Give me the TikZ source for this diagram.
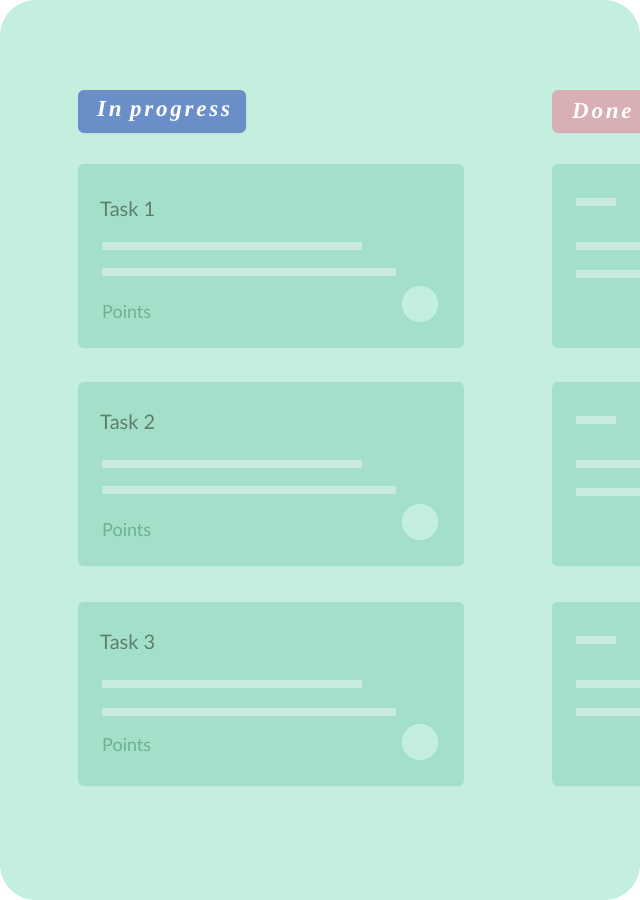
\documentclass[tikz,border=0pt]{standalone}
\usepackage{fontspec}
\setmainfont{Lato}
\newfontfamily\tagfont{Liberation Serif}[LetterSpace=12]
\usetikzlibrary{positioning}
\definecolor{boardbg}{HTML}{C4EFDF}
\definecolor{cardbg}{HTML}{A4DFCA}
\definecolor{barbg}{HTML}{C9EBDF}
\definecolor{tasktext}{HTML}{5D7D6F}
\definecolor{pointtext}{HTML}{6FB194}
\definecolor{progblue}{HTML}{6A8FC8}
\definecolor{donepink}{HTML}{D9AFB6}
\tikzset{
    %Define style for column tags
    tagnode/.style={
             rectangle, rounded corners=6pt,
             minimum height=43pt, inner sep=0pt, outer sep=0pt,
             text=white,
             font=\tagfont\bfseries\itshape\fontsize{23}{26}\selectfont},
    %Define style for cards
    cardnode/.style={
             rectangle, rounded corners=6pt,
             fill=cardbg,
             minimum width=386pt, minimum height=184pt,
             inner sep=0pt, outer sep=0pt},
    % Define text styles
    titlenode/.style={
             anchor=base west, inner sep=0pt,
             text=tasktext,
             font=\fontsize{20}{24}\selectfont},
    pointnode/.style={
             anchor=base west, inner sep=0pt,
             text=pointtext,
             font=\fontsize{18}{22}\selectfont},
    dotnode/.style={
             circle, fill=boardbg,
             minimum size=36pt, inner sep=0pt}
}
\begin{document}
\begin{tikzpicture}[x=1pt, y=-1pt]
 \useasboundingbox (0,0) rectangle (640,900);
 \fill[white] (0,0) rectangle (640,900);
 \fill[boardbg, rounded corners=36pt] (0,0) rectangle (640,900);
 % column tags
 \node[tagnode, fill=progblue, anchor=north west, minimum width=168pt] (progress) at (78,90) {};
 \node[anchor=west, inner sep=0pt, text=white,
       font=\tagfont\bfseries\itshape\fontsize{23}{26}\selectfont] (progresstext) at (97,111) {In progress};
 \node[tagnode, fill=donepink, anchor=north west, minimum width=120pt] (done) at (552,90) {};
 \node[anchor=west, inner sep=0pt, text=white,
       font=\tagfont\bfseries\itshape\fontsize{23}{26}\selectfont] (donetext) at (572,111) {Done};
 % cards of the first column
 \node[cardnode, anchor=north west] (card1) at (78,164) {};
 \node[cardnode, below=34pt of card1] (card2) {};
 \node[cardnode, below=36pt of card2] (card3) {};
 % cards of the second column
 \node[cardnode, anchor=north west] (done1) at (552,164) {};
 \node[cardnode, below=34pt of done1] (done2) {};
 \node[cardnode, below=36pt of done2] (done3) {};
 \foreach \i/\top/\tb/\bb/\pb in {1/164/52/104/154, 2/382/47/104/154, 3/602/47/106/149} {
   \node[titlenode] (task\i) at (100,\top+\tb) {Task \i};
   \fill[barbg] (102,\top+78) rectangle (362,\top+86);
   \fill[barbg] (102,\top+\bb) rectangle (396,\top+\bb+8);
   \node[pointnode] (points\i) at (102,\top+\pb) {Points};
   \node[dotnode] (dot\i) at (420,\top+140) {};
   % placeholder lines of the done cards
   \fill[barbg] (576,\top+34) rectangle (616,\top+42);
   \fill[barbg] (576,\top+78) rectangle (660,\top+86);
   \fill[barbg] (576,\top+106) rectangle (660,\top+114);
 }
\end{tikzpicture}
\end{document}
